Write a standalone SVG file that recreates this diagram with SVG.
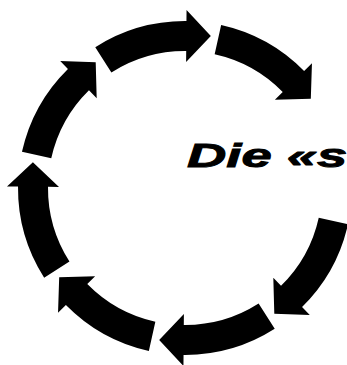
<svg xmlns="http://www.w3.org/2000/svg" xmlns:xlink="http://www.w3.org/1999/xlink" width="347" height="365" viewBox="0 0 347 365">
  <style>
    .arrow { fill: #000; }
    .label { font-family: "Liberation Sans", Arial, sans-serif; font-weight: bold; font-style: italic; font-size: 34px; fill: #000; stroke: #000; stroke-width: 0.9px; }
  </style>
  <defs>
    <path id="arc-arrow" class="arrow" d="M 167 0 A 167 167 0 0 1 140.06 90.95 L 149.29 96.95 L 114.41 103.5 L 105.67 68.63 L 114.90 74.62 A 137 137 0 0 0 137 0 Z"/>
  </defs>
  <rect width="347" height="365" fill="#fff"/>
  <g id="connectors">
    <use xlink:href="#arc-arrow" href="#arc-arrow" transform="translate(185,188) rotate(237.5)"/>
    <use xlink:href="#arc-arrow" href="#arc-arrow" transform="translate(185,188) rotate(282.5)"/>
    <use xlink:href="#arc-arrow" href="#arc-arrow" transform="translate(185,188) rotate(12.5)"/>
    <use xlink:href="#arc-arrow" href="#arc-arrow" transform="translate(185,188) rotate(57.5)"/>
    <use xlink:href="#arc-arrow" href="#arc-arrow" transform="translate(185,188) rotate(102.5)"/>
    <use xlink:href="#arc-arrow" href="#arc-arrow" transform="translate(185,188) rotate(147.5)"/>
    <use xlink:href="#arc-arrow" href="#arc-arrow" transform="translate(185,188) rotate(192.5)"/>
  </g>
  <g id="label">
    <text class="label" transform="translate(187,167) scale(1.6,1)" x="0" y="0">Die «s</text>
  </g>
</svg>
